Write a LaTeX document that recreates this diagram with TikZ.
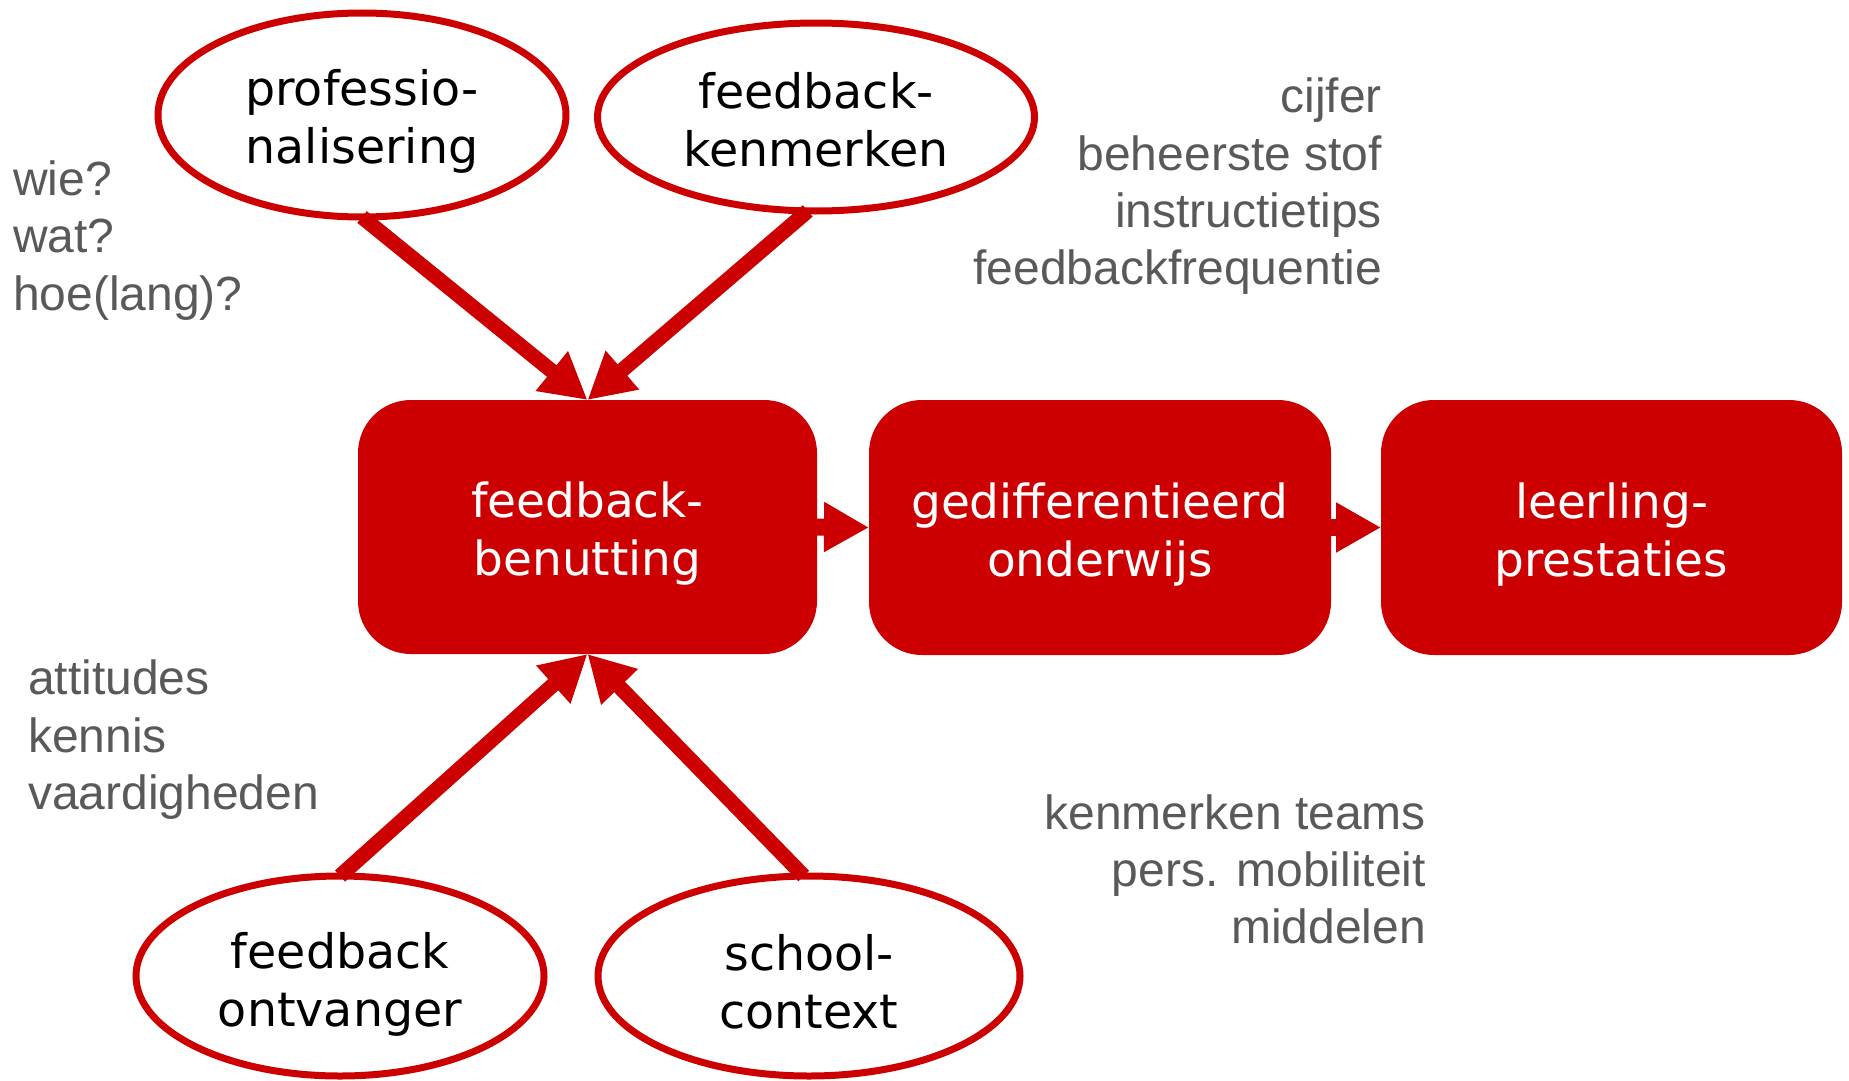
\documentclass[tikz,border=0pt]{standalone}
\usepackage{fontspec}
\setmainfont{Liberation Sans}
\newfontfamily\boxfont{DejaVu Sans}
\usetikzlibrary{arrows.meta,shapes.geometric}
\definecolor{myred}{HTML}{CC0000}
\definecolor{mygray}{HTML}{595959}
\begin{document}
\begin{tikzpicture}[x=1pt,y=-1pt,
  oval/.style={ellipse, draw=myred, line width=7pt, inner sep=0pt, outer sep=0pt},
  ovaltext/.style={font=\boxfont\fontsize{47.5pt}{58pt}\selectfont, align=center, text=black, inner sep=0pt, yshift=-6pt},
  redbox/.style={rectangle, rounded corners=53pt, fill=myred, inner sep=0pt, outer sep=0pt},
  boxtext/.style={font=\boxfont\fontsize{47pt}{58pt}\selectfont, align=center, text=white, inner sep=0pt, yshift=-7pt},
  flow/.style={draw=myred, line width=15pt, -{Triangle[length=46pt,width=48pt]}},
  hflow/.style={draw=myred, line width=17pt, -{Triangle[length=45pt,width=47pt]}},
  note/.style={text=mygray, font=\fontsize{48pt}{57pt}\selectfont, inner sep=0pt}
]
\useasboundingbox (0,0) rectangle (1849,1081);

% ellipses
\node[oval, minimum width=408pt, minimum height=204pt,
  label={[ovaltext]center:{professio-\\nalisering}}] (e1) at (362,115) {};
\node[oval, minimum width=437pt, minimum height=188pt,
  label={[ovaltext, yshift=3.5pt]center:{feedback-\\kenmerken}}] (e2) at (816,117) {};
\node[oval, minimum width=408pt, minimum height=200pt,
  label={[ovaltext, yshift=-2pt]center:{feedback\\ontvanger}}] (e3) at (340,976) {};
\node[oval, minimum width=422pt, minimum height=200pt,
  label={[ovaltext]center:{school-\\context}}] (e4) at (809,976) {};

% boxes
\node[redbox, minimum width=459pt, minimum height=254pt,
  label={[boxtext]center:{feedback-\\benutting}}] (b1) at (587.5,527) {};
\node[redbox, minimum width=462pt, minimum height=255pt,
  label={[boxtext]center:{gedifferentieerd\\onderwijs}}] (b2) at (1100,527.5) {};
\node[redbox, minimum width=461pt, minimum height=255pt,
  label={[boxtext]center:{leerling-\\prestaties}}] (b3) at (1611.5,527.5) {};

% connectors
\draw[flow] (e1.south) -- (b1.north);
\draw[flow] (e2.265) -- (b1.north);
\draw[flow] (e3.north) -- (b1.south);
\draw[flow] (e4.93) -- (b1.south);
\draw[hflow] (b1.east) -- (b2.west);
\draw[hflow] (b2.east) -- (b3.west);

% notes top right
\node[note, anchor=base east] (t1) at (1382,112) {cijfer};
\node[note, anchor=base east] (t2) at (1382,170) {beheerste stof};
\node[note, anchor=base east] (t3) at (1382,227) {instructietips};
\node[note, anchor=base east] (t4) at (1382,284) {feedbackfrequentie};
% notes left top
\node[note, anchor=base west] (l1) at (13,195) {wie?};
\node[note, anchor=base west] (l2) at (13,252) {wat?};
\node[note, anchor=base west] (l3) at (13,310) {hoe(lang)?};
% notes left bottom
\node[note, anchor=base west] (a1) at (28,694) {attitudes};
\node[note, anchor=base west] (a2) at (28,752) {kennis};
\node[note, anchor=base west] (a3) at (28,809) {vaardigheden};
% notes bottom right
\node[note, anchor=base east] (k1) at (1426,829) {kenmerken teams};
\node[note, anchor=base east] (k2) at (1426,886) {pers. mobiliteit};
\node[note, anchor=base east] (k3) at (1426,943) {middelen};
\end{tikzpicture}
\end{document}
